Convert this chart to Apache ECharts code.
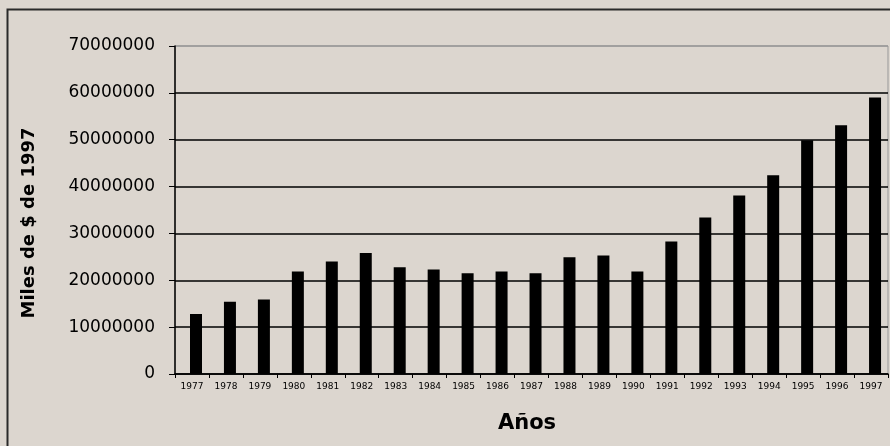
<!DOCTYPE html>
<html>
<head>
<meta charset="utf-8">
<script src="https://cdn.jsdelivr.net/npm/echarts@6/dist/echarts.min.js"></script>
<style>
  html, body { margin: 0; padding: 0; background: #DCD6CF; }
  #chart { width: 890px; height: 446px; }
</style>
</head>
<body>
<div id="chart"></div>
<script>
// Años (categorías del eje X)
const years = ['1977', '1978', '1979', '1980', '1981', '1982', '1983', '1984', '1985', '1986',
               '1987', '1988', '1989', '1990', '1991', '1992', '1993', '1994', '1995', '1996', '1997'];

// Miles de $ de 1997
const valores = [12800000, 15400000, 15900000, 21900000, 24000000, 25800000, 22800000,
                 22300000, 21500000, 21900000, 21500000, 24900000, 25300000, 21900000,
                 28300000, 33400000, 38100000, 42400000, 49900000, 53100000, 59000000];

// Escala del eje Y
const yMin = 0;
const yMax = 70000000;
const yStep = 10000000;

const chart = echarts.init(document.getElementById('chart'), null, { renderer: 'canvas' });

chart.setOption({
  animation: false,
  backgroundColor: '#DCD6CF',
  graphic: [
    {
      type: 'rect',
      shape: { x: 7.5, y: 9.5, width: 900, height: 460 },
      style: { fill: 'none', stroke: '#2a2a2a', lineWidth: 2 },
      z: -1
    },
    {
      type: 'text',
      left: 20,
      top: 'middle',
      rotation: Math.PI / 2,
      style: {
        text: 'Miles de $ de 1997',
        font: 'bold 18px "DejaVu Sans"',
        fill: '#000',
        textAlign: 'center',
        textVerticalAlign: 'middle'
      },
      x: 31,
      y: 209
    },
    {
      type: 'text',
      style: {
        text: 'Años',
        font: 'bold 21px "DejaVu Sans"',
        fill: '#000',
        textAlign: 'center',
        textVerticalAlign: 'middle'
      },
      x: 527,
      y: 424
    }
  ],
  grid: {
    left: 175,
    right: 2,
    top: 46,
    bottom: 72,
    show: true,
    backgroundColor: 'transparent',
    borderColor: '#999',
    borderWidth: 1
  },
  xAxis: {
    type: 'category',
    data: years,
    boundaryGap: true,
    axisLine: { lineStyle: { color: '#000', width: 1.5 } },
    axisTick: { show: true, length: 4, alignWithLabel: false, lineStyle: { color: '#000' } },
    axisLabel: {
      interval: 0,
      color: '#000',
      fontFamily: 'DejaVu Sans',
      fontSize: 9,
      margin: 8
    },
    splitLine: { show: false }
  },
  yAxis: {
    type: 'value',
    min: yMin,
    max: yMax,
    interval: yStep,
    axisLine: { show: true, lineStyle: { color: '#000', width: 1.5 } },
    axisTick: { show: true, length: 6, lineStyle: { color: '#000' } },
    axisLabel: {
      color: '#000',
      fontFamily: 'DejaVu Sans',
      fontSize: 17,
      margin: 20,
      formatter: function (v) { return String(v); }
    },
    splitLine: {
      show: true,
      lineStyle: {
        color: ['#000', '#000', '#000', '#000', '#000', '#000', '#000', '#999'],
        width: 1.5
      }
    }
  },
  series: [
    {
      // empty slot that sits before the real bars in each category
      name: 'spacer',
      type: 'bar',
      barWidth: 12,
      barGap: '-33%',
      data: years.map(function () { return null; })
    },
    {
      name: 'Miles de $ de 1997',
      type: 'bar',
      barWidth: 12,
      data: valores,
      itemStyle: { color: '#000' }
    }
  ]
});
</script>
</body>
</html>
